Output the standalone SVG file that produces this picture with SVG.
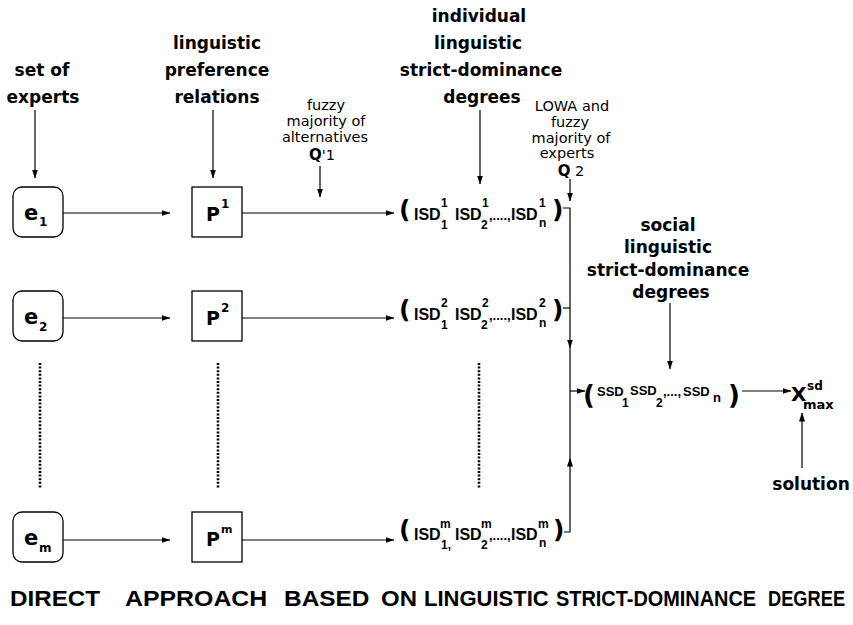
<svg xmlns="http://www.w3.org/2000/svg" width="853" height="625" viewBox="0 0 853 625">
<style>
.t{font-family:"DejaVu Sans",sans-serif;font-weight:bold;font-size:17px;fill:#000;text-anchor:middle}
.s{font-family:"DejaVu Sans",sans-serif;font-size:14.5px;fill:#000;text-anchor:middle}
.b{font-family:"DejaVu Sans",sans-serif;font-weight:bold;fill:#000}
.n{font-family:"Liberation Sans",sans-serif;font-weight:bold;fill:#000}
.ttl{font-family:"Liberation Sans",sans-serif;font-weight:bold;font-size:22px;fill:#000}
.box{fill:#fff;stroke:#000;stroke-width:1.3}
.ln{fill:none;stroke:#000;stroke-width:1.2}
.dot{fill:none;stroke:#000;stroke-width:2.6;stroke-dasharray:2 1.6}
</style>
<defs>
<marker id="ah" markerWidth="9" markerHeight="7" refX="8.5" refY="3" orient="auto" markerUnits="userSpaceOnUse">
<path d="M0,0 L9,3 L0,6 z" fill="#000"/>
</marker>
</defs>
<rect width="853" height="625" fill="#fff"/>

<g id="labels">
<text class="t" x="42" y="76">set of</text>
<text class="t" x="43" y="103">experts</text>
<text class="t" x="217" y="49">linguistic</text>
<text class="t" x="217" y="76">preference</text>
<text class="t" x="217" y="103">relations</text>
<text class="s" x="326" y="110">fuzzy</text>
<text class="s" x="326" y="126">majority of</text>
<text class="s" x="325" y="142">alternatives</text>
<text class="s" x="322" y="160"><tspan class="b" font-size="15">Q</tspan>'1</text>
<text class="t" x="479" y="22">individual</text>
<text class="t" x="478" y="49">linguistic</text>
<text class="t" x="481" y="76">strict-dominance</text>
<text class="t" x="482" y="103">degrees</text>
<text class="s" x="572" y="111">LOWA and</text>
<text class="s" x="570" y="127">fuzzy</text>
<text class="s" x="571" y="143">majority of</text>
<text class="s" x="567" y="158">experts</text>
<text class="s" x="571" y="176"><tspan class="b" font-size="15">Q</tspan> 2</text>
<text class="t" x="668" y="231">social</text>
<text class="t" x="668" y="253">linguistic</text>
<text class="t" x="668" y="276">strict-dominance</text>
<text class="t" x="671" y="298">degrees</text>
<text class="t" x="811" y="490">solution</text>
</g>

<g id="e1"><rect class="box" x="13" y="187" width="50" height="50" rx="9"/><text class="b" font-size="21" x="24" y="220">e</text><text class="b" font-size="12" x="39" y="226">1</text></g>
<g id="e2"><rect class="box" x="13" y="291" width="50" height="50" rx="9"/><text class="b" font-size="21" x="24" y="324">e</text><text class="b" font-size="12" x="39" y="331">2</text></g>
<g id="em"><rect class="box" x="13" y="512" width="50" height="50" rx="9"/><text class="b" font-size="21" x="24" y="545">e</text><text class="b" font-size="12" x="39" y="552">m</text></g>

<g id="p1"><rect class="box" x="192" y="187" width="50" height="50"/><text class="b" font-size="19" x="206" y="221">P</text><text class="b" font-size="12" x="221" y="208">1</text></g>
<g id="p2"><rect class="box" x="192" y="291" width="50" height="50"/><text class="b" font-size="19" x="206" y="325">P</text><text class="b" font-size="12" x="221" y="312">2</text></g>
<g id="pm"><rect class="box" x="192" y="512" width="50" height="50"/><text class="b" font-size="19" x="206" y="546">P</text><text class="b" font-size="11" x="221" y="533">m</text></g>

<g id="isd1">
<text class="b" font-size="25" x="399" y="218">(</text>
<text class="n" font-size="16" x="414" y="220">ISD</text>
<text class="n" font-size="12" x="441" y="207">1</text><text class="n" font-size="12" x="441" y="229">1</text>
<text class="n" font-size="16" x="455" y="220">ISD</text>
<text class="n" font-size="12" x="482" y="207">1</text><text class="n" font-size="12" x="481" y="229">2</text>
<text class="n" font-size="13" x="489" y="220">,....,</text>
<text class="n" font-size="16" x="511" y="220">ISD</text>
<text class="n" font-size="12" x="539" y="207">1</text><text class="n" font-size="12" x="539" y="227">n</text>
<text class="b" font-size="25" x="552" y="218">)</text>
</g>
<g id="isd2">
<text class="b" font-size="25" x="399" y="318">(</text>
<text class="n" font-size="16" x="414" y="320">ISD</text>
<text class="n" font-size="12" x="441" y="307">2</text><text class="n" font-size="12" x="441" y="329">1</text>
<text class="n" font-size="16" x="455" y="320">ISD</text>
<text class="n" font-size="12" x="482" y="307">2</text><text class="n" font-size="12" x="481" y="329">2</text>
<text class="n" font-size="13" x="489" y="320">,....,</text>
<text class="n" font-size="16" x="511" y="320">ISD</text>
<text class="n" font-size="12" x="539" y="307">2</text><text class="n" font-size="12" x="539" y="327">n</text>
<text class="b" font-size="25" x="552" y="318">)</text>
</g>
<g id="isdm">
<text class="b" font-size="25" x="399" y="538">(</text>
<text class="n" font-size="16" x="414" y="540">ISD</text>
<text class="n" font-size="12" x="440" y="528">m</text><text class="n" font-size="12" x="441" y="549">1,</text>
<text class="n" font-size="16" x="455" y="540">ISD</text>
<text class="n" font-size="12" x="481" y="528">m</text><text class="n" font-size="12" x="481" y="549">2</text>
<text class="n" font-size="13" x="489" y="540">,....,</text>
<text class="n" font-size="16" x="511" y="540">ISD</text>
<text class="n" font-size="12" x="538" y="528">m</text><text class="n" font-size="12" x="539" y="547">n</text>
<text class="b" font-size="25" x="553" y="538">)</text>
</g>

<g id="ssd">
<text class="b" font-size="26" x="583" y="404">(</text>
<text class="n" font-size="13" x="597" y="396">SSD</text>
<text class="n" font-size="12" x="622" y="407">1</text>
<text class="n" font-size="13" x="630" y="395">SSD</text>
<text class="n" font-size="12" x="656" y="407">2</text>
<text class="n" font-size="13" x="663" y="396">,...,</text>
<text class="n" font-size="13" x="683" y="396">SSD</text>
<text class="n" font-size="13" x="713" y="402">n</text>
<text class="b" font-size="26" x="728" y="404">)</text>
</g>

<g id="xmax">
<text class="b" font-size="20" x="791" y="401">X</text>
<text class="b" font-size="12" x="807" y="390">sd</text>
<text class="b" font-size="13" x="803" y="409">max</text>
</g>

<g id="connectors">
<line class="ln" x1="35" y1="110" x2="35" y2="178" marker-end="url(#ah)"/>
<line class="ln" x1="213" y1="110" x2="213" y2="178" marker-end="url(#ah)"/>
<line class="ln" x1="320" y1="166" x2="320" y2="197" marker-end="url(#ah)"/>
<line class="ln" x1="480" y1="110" x2="480" y2="184" marker-end="url(#ah)"/>
<line class="ln" x1="570" y1="179" x2="570" y2="201" marker-end="url(#ah)"/>
<line class="ln" x1="670" y1="303" x2="670" y2="369" marker-end="url(#ah)"/>
<line class="ln" x1="802" y1="468" x2="802" y2="413" marker-end="url(#ah)"/>

<line class="ln" x1="63" y1="213" x2="170" y2="213" marker-end="url(#ah)"/>
<line class="ln" x1="63" y1="318" x2="170" y2="318" marker-end="url(#ah)"/>
<line class="ln" x1="63" y1="540" x2="170" y2="540" marker-end="url(#ah)"/>
<line class="ln" x1="242" y1="213" x2="394" y2="213" marker-end="url(#ah)"/>
<line class="ln" x1="242" y1="318" x2="394" y2="318" marker-end="url(#ah)"/>
<line class="ln" x1="242" y1="540" x2="394" y2="540" marker-end="url(#ah)"/>

<polyline class="ln" points="563,208 570,208 570,348" marker-end="url(#ah)"/>
<line class="ln" x1="563" y1="308" x2="570" y2="308"/>
<line class="ln" x1="570" y1="348" x2="570" y2="458"/>
<polyline class="ln" points="564,532 570,532 570,458" marker-end="url(#ah)"/>
<line class="ln" x1="570" y1="391" x2="585" y2="391" marker-end="url(#ah)"/>
<line class="ln" x1="742" y1="391" x2="791" y2="391" marker-end="url(#ah)"/>

<line class="dot" x1="40" y1="363" x2="40" y2="488"/>
<line class="dot" x1="218" y1="363" x2="218" y2="488"/>
<line class="dot" x1="479" y1="363" x2="479" y2="488"/>
</g>

<g id="title">
<text class="ttl" transform="translate(10,606) scale(1.1,1)">DIRECT</text>
<text class="ttl" transform="translate(125,606) scale(1.13,1)">APPROACH</text>
<text class="ttl" transform="translate(284,606) scale(1.11,1)">BASED</text>
<text class="ttl" transform="translate(381,606) scale(1.09,1)">ON</text>
<text class="ttl" transform="translate(424,606)">LINGUISTIC</text>
<text class="ttl" transform="translate(556,606) scale(0.905,1)">STRICT-DOMINANCE</text>
<text class="ttl" transform="translate(768,606) scale(0.83,1)">DEGREE</text>
</g>
</svg>
